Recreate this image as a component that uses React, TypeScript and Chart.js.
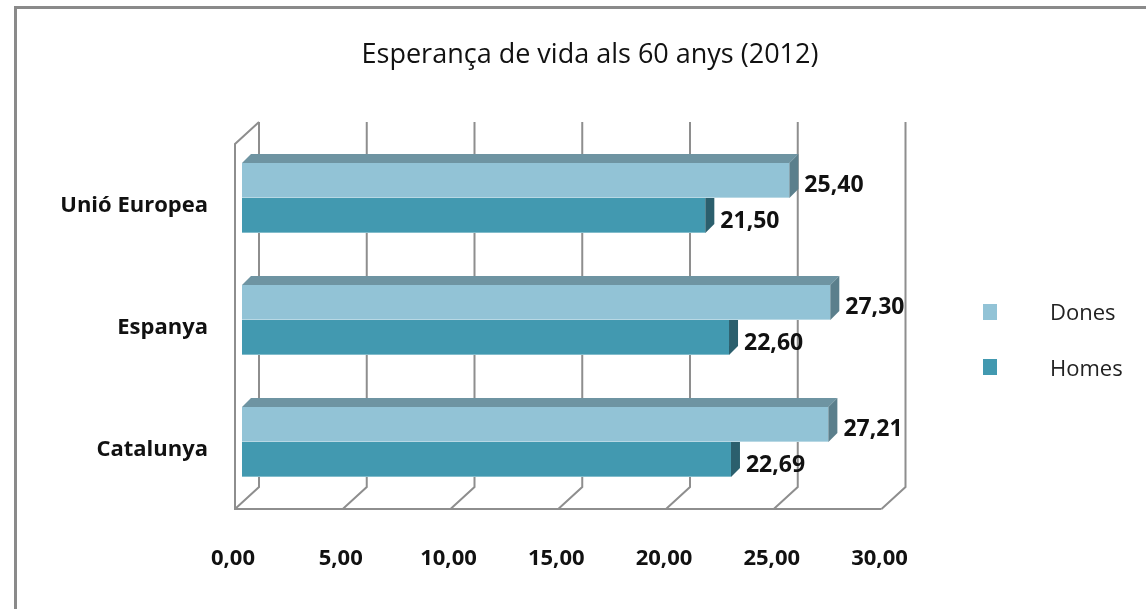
import React, { useEffect, useRef } from "react";
import { Chart, registerables } from "chart.js";

Chart.register(...registerables);

const TITLE = "Esperança de vida als 60 anys (2012)";
const CATEGORIES = ["Unió Europea", "Espanya", "Catalunya"];
const SERIES_NAMES = ["Dones", "Homes"];
const DONES = [25.4, 27.3, 27.21];
const HOMES = [21.5, 22.6, 22.69];
const X_TICKS = [0, 5, 10, 15, 20, 25, 30];

const FONT = "'Open Sans', 'Noto Sans', sans-serif";
const FRONT = ["#92c3d6", "#4299b0"];
const TOP = ["#6e94a2", "#2f7285"];
const SIDE = ["#5b7f8c", "#2b5f6d"];
const GRID = "#8e8e8e";

const fmt = (v: number) => v.toFixed(2).replace(".", ",");

// 3D geometry (pixels)
const DEPTH_X = 9;
const DEPTH_Y = 9;
const FRONT_DX = -7;
const FRONT_DY = 6;
const BACK_DX = 17;
const BACK_DY = -16;
const WALL_TOP = -15;

const threeD = {
  id: "threeD",
  beforeDatasetsDraw(chart: any) {
    const { ctx, chartArea } = chart;
    const xs = chart.scales.x;
    const top = chartArea.top + WALL_TOP;
    const backBottom = chartArea.bottom + BACK_DY;
    const frontBottom = chartArea.bottom + FRONT_DY;
    ctx.save();
    ctx.strokeStyle = GRID;
    ctx.lineWidth = 2;
    ctx.lineJoin = "miter";
    X_TICKS.forEach((v) => {
      const px = xs.getPixelForValue(v);
      ctx.beginPath();
      ctx.moveTo(px + BACK_DX, top);
      ctx.lineTo(px + BACK_DX, backBottom);
      ctx.lineTo(px + FRONT_DX, frontBottom);
      ctx.stroke();
    });
    const x0 = xs.getPixelForValue(X_TICKS[0]);
    const x1 = xs.getPixelForValue(X_TICKS[X_TICKS.length - 1]);
    ctx.beginPath();
    ctx.moveTo(x1 + FRONT_DX, frontBottom);
    ctx.lineTo(x0 + FRONT_DX, frontBottom);
    ctx.lineTo(x0 + FRONT_DX, top + (FRONT_DY - BACK_DY));
    ctx.lineTo(x0 + BACK_DX, top);
    ctx.stroke();
    ctx.restore();
  },
  afterDatasetDraw(chart: any, args: any) {
    const { ctx } = chart;
    const i = args.index;
    const meta = args.meta;
    ctx.save();
    meta.data.forEach((bar: any, j: number) => {
      const { x, y, base, height } = bar.getProps(["x", "y", "base", "height"], true);
      const t = y - height / 2;
      const b = y + height / 2;
      // light bottom edge
      ctx.fillStyle = "rgba(255,255,255,0.35)";
      ctx.fillRect(base, b - 1, x - base, 1);
      // top face
      ctx.fillStyle = TOP[i];
      ctx.beginPath();
      ctx.moveTo(base, t);
      ctx.lineTo(base + DEPTH_X, t - DEPTH_Y);
      ctx.lineTo(x + DEPTH_X, t - DEPTH_Y);
      ctx.lineTo(x, t);
      ctx.closePath();
      ctx.fill();
      // side face
      ctx.fillStyle = SIDE[i];
      ctx.beginPath();
      ctx.moveTo(x, t);
      ctx.lineTo(x + DEPTH_X, t - DEPTH_Y);
      ctx.lineTo(x + DEPTH_X, b - DEPTH_Y);
      ctx.lineTo(x, b);
      ctx.closePath();
      ctx.fill();
      // value label
      const val = chart.data.datasets[i].data[j];
      ctx.fillStyle = "#111";
      ctx.font = `bold 23px ${FONT}`;
      ctx.textAlign = "left";
      ctx.textBaseline = "alphabetic";
      ctx.fillText(fmt(val), x + DEPTH_X + 6, y + 12);
    });
    ctx.restore();
  },
  afterDraw(chart: any) {
    const { ctx, width, height } = chart;
    ctx.save();
    ctx.strokeStyle = "#8a8a8a";
    ctx.lineWidth = 3;
    ctx.strokeRect(15.5, 7.5, width + 20, height + 20);
    ctx.fillStyle = "#111";
    ctx.font = `500 27px ${FONT}`;
    ctx.textAlign = "center";
    ctx.textBaseline = "alphabetic";
    ctx.fillText(TITLE, 590, 63);
    const ys = [304, 359];
    const bl = [320, 376];
    chart.data.datasets.forEach((ds: any, i: number) => {
      ctx.fillStyle = ds.backgroundColor;
      ctx.fillRect(983, ys[i], 14, 16);
      ctx.fillStyle = "#222";
      ctx.font = `normal 22px ${FONT}`;
      ctx.textAlign = "left";
      ctx.fillText(ds.label, 1050, bl[i]);
    });
    ctx.restore();
  },
};

export default function App() {
  const ref = useRef<HTMLCanvasElement | null>(null);
  useEffect(() => {
    document.body.style.margin = "0";
    if (!ref.current) return;
    const chart = new Chart(ref.current, {
      type: "bar",
      data: {
        labels: CATEGORIES,
        datasets: [
          { label: SERIES_NAMES[0], data: DONES, backgroundColor: FRONT[0], borderWidth: 0 },
          { label: SERIES_NAMES[1], data: HOMES, backgroundColor: FRONT[1], borderWidth: 0 },
        ],
      },
      options: {
        indexAxis: "y",
        responsive: false,
        animation: false,
        events: [],
        datasets: { bar: { categoryPercentage: 0.574, barPercentage: 1 } },
        layout: { padding: { left: 0, right: 257.5, top: 137, bottom: 26 } },
        plugins: {
          legend: { display: false },
          title: { display: false },
          tooltip: { enabled: false },
        },
        scales: {
          x: {
            min: 0,
            max: 30,
            afterBuildTicks: (s: any) => {
              s.ticks = X_TICKS.map((v) => ({ value: v }));
            },
            afterFit: (s: any) => {
              s.height = 80;
            },
            ticks: {
              callback: (v: any) => fmt(Number(v)),
              labelOffset: -9,
              padding: 43,
              color: "#111",
              font: { family: FONT, size: 22, weight: "bold" },
              maxRotation: 0,
              autoSkip: false,
            },
            grid: { display: false, drawTicks: false },
            border: { display: false },
          },
          y: {
            afterFit: (s: any) => {
              s.width = 242;
            },
            ticks: {
              padding: 34,
              labelOffset: 8,
              color: "#111",
              font: { family: FONT, size: 22, weight: "bold" },
            },
            grid: { display: false, drawTicks: false },
            border: { display: false },
          },
        },
      },
      plugins: [threeD],
    } as any);
    return () => chart.destroy();
  }, []);
  return (
    <div style={{ position: "absolute", left: 0, top: 0, width: 1146, height: 609, background: "#fff" }}>
      <canvas ref={ref} width={1146} height={609} />
    </div>
  );
}
